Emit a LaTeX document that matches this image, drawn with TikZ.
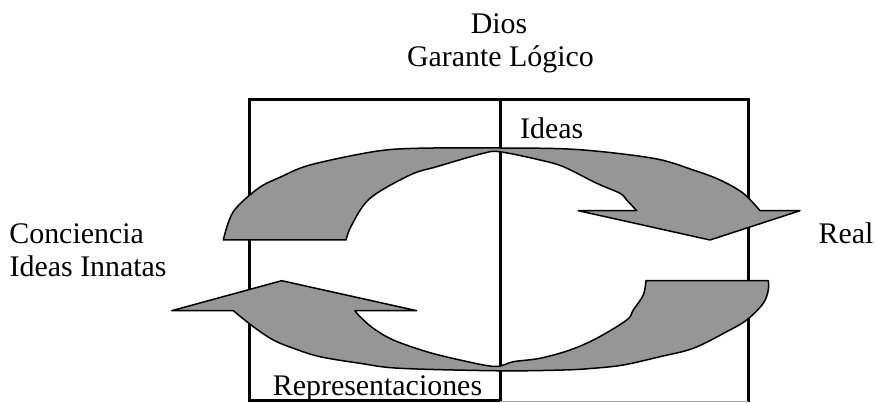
\documentclass[tikz,border=0pt]{standalone}
\usepackage{fontspec}
\setmainfont{Liberation Serif}
\begin{document}
\begin{tikzpicture}[x=1pt,y=-1pt,
  lbl/.style={inner sep=0pt,font=\fontsize{29.9}{34}\selectfont},
  frame/.style={line width=3pt,line join=miter,line cap=rect},
  arrowfill/.style={fill={rgb,255:red,150;green,150;blue,150},draw=black,line width=1.5pt,line join=round}]
\useasboundingbox (0,0) rectangle (876,403);
% frame
\draw[frame] (500,401) -- (249,401) -- (249,100) -- (748,100) -- (748,401);
\draw[frame] (500,100) -- (500,401);
\draw[line width=1pt,black!35] (500,401.5) -- (748,401.5);
% upper curved arrow
\path[arrowfill] (223.3,240)
  -- plot[smooth,tension=0.55] coordinates {(223.3,240) (233.3,211.7) (258.3,188.3) (280,177.3) (310,165) (373.3,151.7) (416.7,148.3) (500,148) (576.7,149.5) (653.3,158.3) (693.3,170) (720,180) (743.3,193.3) (760,210.7)}
  -- (800,210.7) -- (710,240) -- (578.3,210.7) -- (636.7,210.7)
  -- plot[smooth,tension=0.55] coordinates {(636.7,210.7) (626.7,200) (620,193.3) (596.7,183.3) (563.3,166.7) (540,160) (500,151.8) (483.3,153.3) (436.7,166.7) (410,175) (370,198.3) (351.7,225) (346,240)}
  -- cycle;
% lower curved arrow
\path[arrowfill] (171.7,310.7) -- (281.7,280.7) -- (416.7,310.7) -- (355,310.7)
  -- plot[smooth,tension=0.55] coordinates {(355,310.7) (360,316.7) (373.3,328.3) (393.3,340) (426.7,351.7) (460,360) (495,366.5) (513.3,361.7) (540,358.3) (570,350) (596.7,338.3) (626.7,320) (633.3,310) (643.3,295) (646,280.7)}
  -- (768.3,280.7)
  -- plot[smooth,tension=0.55] coordinates {(768.3,280.7) (768.3,290) (763.3,303.3) (746.7,320) (726.7,331.7) (693.3,348.3) (660,356.7) (623.3,365) (593.3,368.3) (563.3,370) (500,370.8) (400,368.3) (360,363.3) (320,356.7) (293.3,348.3) (273.3,340) (253.3,326.7) (233.3,310.7)}
  -- cycle;
% labels
\node[lbl,anchor=base] (dios) at (499,33.3) {Dios};
\node[lbl,anchor=base] (garante) at (500.5,66.7) {Garante Lógico};
\node[lbl,anchor=base] (ideas) at (551.7,139) {Ideas};
\node[lbl,anchor=base west] (conciencia) at (9.2,243.3) {Conciencia};
\node[lbl,anchor=base west] (innatas) at (9.5,277) {Ideas Innatas};
\node[lbl,anchor=base west] (real) at (818.5,243.3) {Real};
\node[lbl,anchor=base] (repr) at (377.5,395.5) {Representaciones};
\end{tikzpicture}
\end{document}
